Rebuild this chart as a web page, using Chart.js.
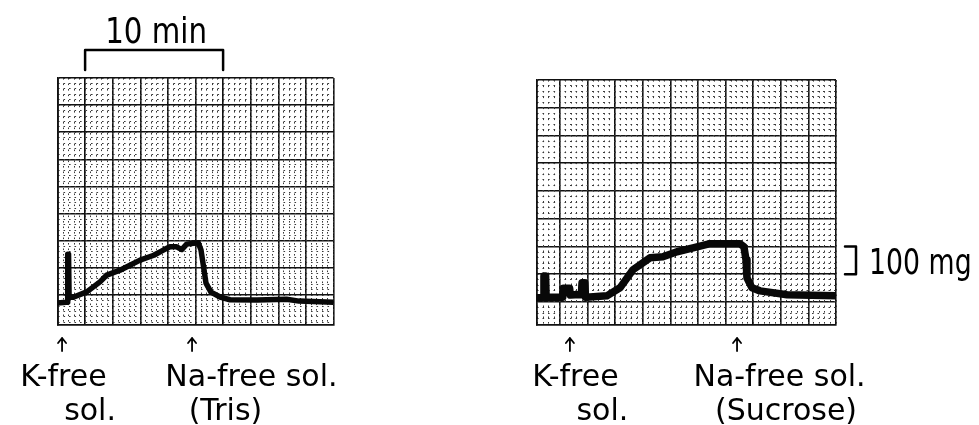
<!DOCTYPE html>
<html>
<head>
<meta charset="utf-8">
<script src="https://cdn.jsdelivr.net/npm/chart.js@4.4.0/dist/chart.umd.min.js"></script>
<style>
  body { margin: 0; background: #fff; }
  #wrap { position: relative; width: 979px; height: 425px; }
  #wrap canvas { position: absolute; left: 0; top: 0; }
</style>
</head>
<body>
<div id="wrap">
  <canvas id="tris" width="979" height="425"></canvas>
  <canvas id="sucrose" width="979" height="425"></canvas>
</div>
<script>
// Kontraktur-Verlauf: Zeit in min, Kraft in mg (0 = Hauptlinie über dem unteren Papierrand)

// Tris-Versuch (links)
const trisTime  = [0, 0.62, 0.72, 0.74, 0.80, 0.84, 1.14, 2.12, 3.08, 3.57, 4.53, 5.25, 5.98, 6.98, 7.67, 8.15, 8.64, 9.0, 9.36, 10.2, 10.4, 10.62, 10.76, 11.12, 11.78, 12.5, 14.46, 16.6, 17.5, 20];
const trisForce = [-29, -26, -26, 151, 151, -8, -8, 12, 49, 74, 92, 110, 129, 147, 166, 178, 178, 168, 188, 193, 166, 92, 44, 11, -7, -17, -18, -15, -22, -26];

// Sucrose-Versuch (rechts)
const sucTime  = [-1.7, -1.45, -1.2, -1.16, -1.04, -1.0, -0.72, 0.2, 0.25, 0.7, 0.75, 1.09, 1.55, 1.6, 1.8, 1.85, 2.17, 3.4, 4.35, 5.29, 6.52, 7.46, 8.48, 9.64, 10.87, 13.04, 13.33, 13.48, 13.55, 13.91, 14.49, 16.45, 20];
const sucForce = [15, 15, 15, 94, 94, 15, 17, 17, 49, 49, 25, 26, 26, 69, 69, 17, 18, 22, 51, 116, 159, 163, 181, 195, 210, 210, 199, 152, 87, 51, 40, 26, 22];

// Rasterpapier: Hauptlinien alle 2 min / 100 mg, Unterteilung 1/5
const majorMin = [0, 2, 4, 6, 8, 10, 12, 14, 16, 18, 20];
const majorMg = [0, 100, 200, 300, 400, 500, 600, 700, 800];
const minorStepMin = 0.4;
const minorStepMg = 20;

// Lösungswechsel (Pfeile) und Beschriftung
const trisMarks = [0.33, 9.75];
const trisLabels = [["K-free", "sol."], ["Na-free sol.", "(Tris)"]];
const sucMarks = [0.72, 12.83];
const sucLabels = [["K-free", "sol."], ["Na-free sol.", "(Sucrose)"]];

// Maßstäbe
const timeBar = [2, 12];      // 10 min
const timeBarText = "10 min";
const forceBar = [100, 200];  // 100 mg
const forceBarText = "100 mg";

function steps(from, to, step) {
  const out = [];
  for (let v = from; v <= to + 1e-9; v += step) out.push(Math.round(v * 100) / 100);
  return out;
}

function axis(pos, min, max, ticks, major) {
  return {
    type: 'linear',
    axis: pos === 'bottom' ? 'x' : 'y',
    position: pos,
    min: min,
    max: max,
    afterBuildTicks: (sc) => { sc.ticks = ticks.map(v => ({ value: v })); },
    ticks: { display: false },
    grid: {
      drawTicks: false,
      color: major ? '#111' : '#3a3a3a',
      lineWidth: major ? 1.6 : 1
    },
    border: major
      ? { display: true, color: '#111', width: 1.8 }
      : { display: false, dash: [1.6, 3.9] }
  };
}

// schmal gezogener Text (Maßstab-Beschriftung)
function squeezeText(ctx, text, x, y, sx) {
  ctx.save();
  ctx.translate(x, y);
  ctx.scale(sx, 1);
  ctx.fillText(text, 0, 0);
  ctx.restore();
}

function arrow(ctx, px, yTop, yBottom) {
  ctx.beginPath();
  ctx.moveTo(px, yBottom); ctx.lineTo(px, yTop);
  ctx.moveTo(px - 4, yTop + 5); ctx.lineTo(px, yTop); ctx.lineTo(px + 4, yTop + 5);
  ctx.stroke();
}

// Pfeile, Texte und Maßstäbe
const beschriftung = {
  id: 'beschriftung',
  afterDraw(chart, args, o) {
    const ctx = chart.ctx;
    const x = chart.scales.x;
    const y = chart.scales.y;
    ctx.save();
    ctx.fillStyle = '#000';
    ctx.strokeStyle = '#000';
    ctx.textBaseline = 'alphabetic';
    ctx.textAlign = 'center';
    ctx.lineCap = 'round';
    ctx.lineJoin = 'round';

    o.marks.forEach((t, i) => {
      const px = x.getPixelForValue(t);
      ctx.lineWidth = 1.8;
      arrow(ctx, px, 338, 351);
      ctx.font = '30px "DejaVu Sans"';
      ctx.fillText(o.labels[i][0], px + o.offs[i][0], 386);
      ctx.fillText(o.labels[i][1], px + o.offs[i][1], 420);
    });

    ctx.lineWidth = 2.5;
    if (o.timeBar) {
      const x1 = x.getPixelForValue(o.timeBar[0]);
      const x2 = x.getPixelForValue(o.timeBar[1]);
      ctx.beginPath();
      ctx.moveTo(x1, 70); ctx.lineTo(x1, 50); ctx.lineTo(x2, 50); ctx.lineTo(x2, 70);
      ctx.stroke();
      ctx.font = '35px "DejaVu Sans Condensed"';
      squeezeText(ctx, o.timeText, (x1 + x2) / 2 + 2, 43, 0.93);
    }
    if (o.forceBar) {
      const y1 = y.getPixelForValue(o.forceBar[0]);
      const y2 = y.getPixelForValue(o.forceBar[1]);
      const bx = chart.chartArea.right + 20;
      ctx.beginPath();
      ctx.moveTo(bx - 11, y2); ctx.lineTo(bx, y2); ctx.lineTo(bx, y1); ctx.lineTo(bx - 11, y1);
      ctx.stroke();
      ctx.textAlign = 'left';
      ctx.font = '35px "DejaVu Sans Condensed"';
      squeezeText(ctx, o.forceText, bx + 13, y1, 0.85);
    }
    ctx.restore();
  }
};

function makeChart(id, c) {
  return new Chart(document.getElementById(id), {
    type: 'line',
    data: {
      datasets: [{
        data: c.time.map((t, i) => ({ x: t, y: c.force[i] })),
        borderColor: '#080808',
        borderWidth: c.width,
        pointRadius: 0,
        tension: 0,
        borderJoinStyle: 'round',
        borderCapStyle: 'round'
      }]
    },
    options: {
      responsive: false,
      animation: false,
      events: [],
      layout: { autoPadding: false, padding: c.pad },
      plugins: {
        legend: { display: false },
        tooltip: { enabled: false },
        beschriftung: c.text
      },
      scales: {
        x: axis('bottom', c.xMin, 20, majorMin, true),
        xm: axis('bottom', c.xMin, 20, steps(c.xMinorFrom, 20, minorStepMin), false),
        y: axis('left', c.yMin, 800, majorMg, true),
        ym: axis('left', c.yMin, 800, steps(c.yMinorFrom, 800, minorStepMg), false)
      }
    },
    plugins: [beschriftung]
  });
}

makeChart('tris', {
  time: trisTime, force: trisForce, width: 5.5,
  xMin: 0, xMinorFrom: 0, yMin: -110, yMinorFrom: -100,
  pad: { left: 57.5, top: 78, right: 645.5, bottom: 100 },
  text: {
    marks: trisMarks, labels: trisLabels,
    offs: [[1.4, 28], [59.4, 33.4]],
    timeBar: timeBar, timeText: timeBarText
  }
});

makeChart('sucrose', {
  time: sucTime, force: sucForce, width: 7.5,
  xMin: -1.7, xMinorFrom: -1.6, yMin: -83, yMinorFrom: -80,
  pad: { left: 536.5, top: 80, right: 143, bottom: 100 },
  text: {
    marks: sucMarks, labels: sucLabels,
    offs: [[5.5, 32.5], [42.5, 49]],
    forceBar: forceBar, forceText: forceBarText
  }
});
</script>
</body>
</html>
